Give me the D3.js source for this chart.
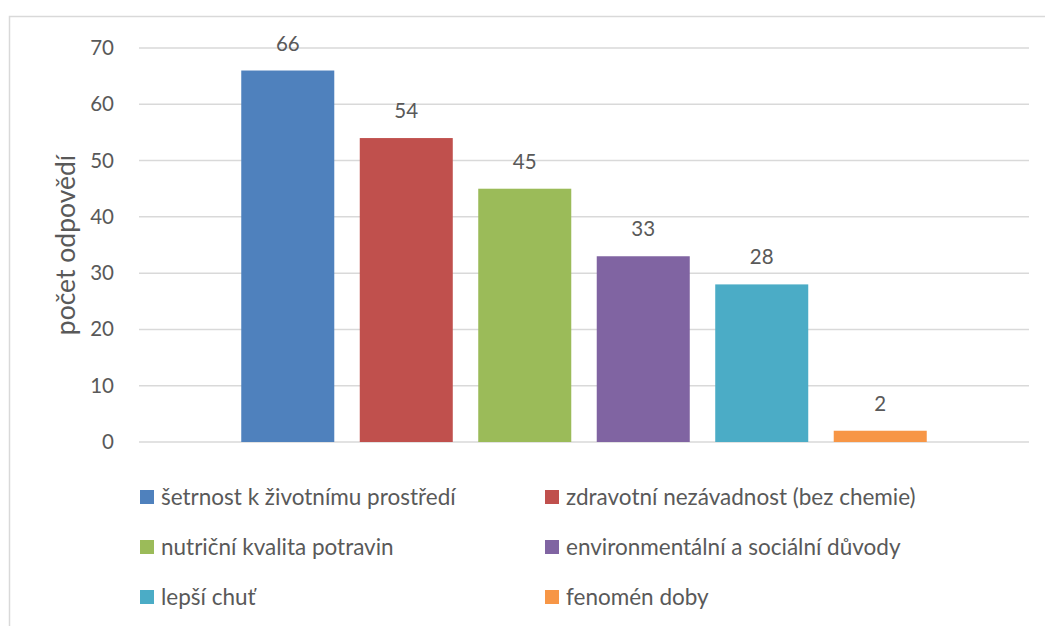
<!DOCTYPE html>
<html>
<head>
<meta charset="utf-8">
<script src="https://cdn.jsdelivr.net/npm/d3@7"></script>
<style>
  body { margin: 0; background: #fff; }
  text { font-family: Lato, "Open Sans", sans-serif; fill: #595959; }
</style>
</head>
<body>
<svg id="chart" width="1045" height="626"></svg>
<script>
// data
var series = ["šetrnost k životnímu prostředí", "zdravotní nezávadnost (bez chemie)",
    "nutriční kvalita potravin", "environmentální a sociální důvody",
    "lepší chuť", "fenomén doby"];
var values = [66, 54, 45, 33, 28, 2];
var colors = ["#4f81bd", "#c0504d", "#9bbb59", "#8064a2", "#4bacc6", "#f79646"];
var yTicks = [0, 10, 20, 30, 40, 50, 60, 70];

(function(){
    var svg = d3.select("#chart");

    // outer frame (cropped on right/bottom)
    svg.append("rect")
        .attr("x", 9.5).attr("y", 16.5)
        .attr("width", 1100).attr("height", 700)
        .attr("fill", "none")
        .attr("stroke", "#d9d9d9")
        .attr("stroke-width", 1.5);

    var left = 139, right = 1029, top = 48, bottom = 442;

    var x = d3.scaleBand().domain(series).range([left, right])
        .paddingInner(0.215).paddingOuter(0.863);
    var y = d3.scaleLinear().domain([0, 70]).range([bottom, top]);

    // gridlines
    svg.append("g").selectAll("line")
        .data(yTicks)
        .enter().append("line")
        .attr("x1", left).attr("x2", right)
        .attr("y1", function(d){ return y(d); })
        .attr("y2", function(d){ return y(d); })
        .attr("stroke", "#d9d9d9")
        .attr("stroke-width", 1.5);

    // y axis labels
    var yAxis = svg.append("g")
        .attr("transform", "translate(" + left + ",0)")
        .call(d3.axisLeft(y).tickValues(yTicks).tickSize(0).tickPadding(25));
    yAxis.select(".domain").remove();
    yAxis.selectAll("text")
        .style("font-size", "20.5px")
        .style("font-family", "Lato, 'Open Sans', sans-serif")
        .attr("fill", "#595959");

    // bars
    svg.append("g").selectAll("rect")
        .data(values)
        .enter().append("rect")
        .attr("x", function(d, i){ return x(series[i]); })
        .attr("y", function(d){ return y(d); })
        .attr("width", x.bandwidth())
        .attr("height", function(d){ return bottom - y(d); })
        .attr("fill", function(d, i){ return colors[i]; });

    // value labels
    svg.append("g").selectAll("text")
        .data(values)
        .enter().append("text")
        .attr("x", function(d, i){ return x(series[i]) + x.bandwidth() / 2; })
        .attr("y", function(d){ return y(d) - 20; })
        .attr("text-anchor", "middle")
        .style("font-size", "20.5px")
        .text(function(d){ return d; });

    // y axis title
    svg.append("text")
        .attr("transform", "translate(75," + ((top + bottom) / 2) + ") rotate(-90)")
        .attr("text-anchor", "middle")
        .style("font-size", "26.5px")
        .text("počet odpovědí");

    // legend
    var legend = svg.append("g");
    for (var i = 0; i < series.length; i++) {
        var lx = (i % 2 === 0) ? 140 : 545;
        var ly = 497 + Math.floor(i / 2) * 50;
        legend.append("rect")
            .attr("x", lx).attr("y", ly - 7)
            .attr("width", 14).attr("height", 14)
            .attr("fill", colors[i]);
        legend.append("text")
            .attr("x", lx + 21).attr("y", ly)
            .attr("dy", "0.35em")
            .style("font-size", "22.5px")
            .text(series[i]);
    }
})();
</script>
</body>
</html>
